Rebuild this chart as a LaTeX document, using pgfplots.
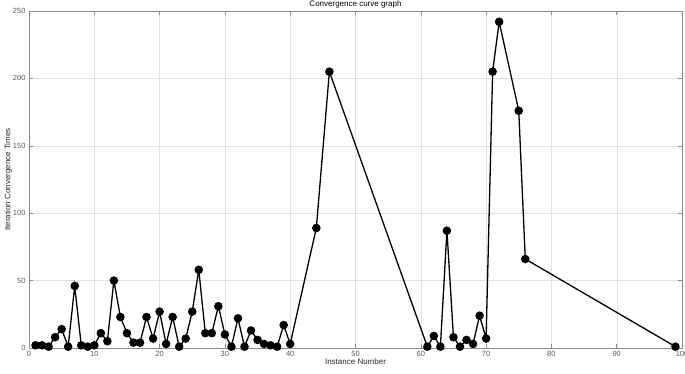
\documentclass[border=0pt]{standalone}
\usepackage{fontspec}
\setmainfont{Liberation Sans}
\usepackage{pgfplots}
\pgfplotsset{compat=1.18}
\definecolor{axgray}{RGB}{38,38,38}
\definecolor{tickgray}{RGB}{90,90,90}
\begin{document}
\begin{tikzpicture}
\begin{axis}[
  scale only axis,
  width=653pt, height=337pt,
  xmin=0, xmax=100, ymin=0, ymax=250,
  xtick={0,10,...,100}, ytick={0,50,...,250},
  tick align=inside,
  major tick length=4pt,
  xmajorgrids, ymajorgrids,
  grid style={line width=0.4pt, draw=black!12},
  axis line style={draw=black!45, line width=0.6pt},
  every tick/.style={draw=black!45, line width=0.5pt},
  tick label style={font=\fontsize{7.5}{8}\selectfont, text=tickgray},
  /pgf/number format/assume math mode=true,
  xlabel={Instance Number},
  ylabel={Iteration Convergence Times},
  label style={font=\fontsize{8}{9}\selectfont, text=axgray},
  xlabel style={yshift=5pt},
  ylabel style={yshift=-6pt},
  title={Convergence curve graph},
  title style={font=\fontsize{8}{9}\selectfont, text=black, yshift=-7pt},
]
\addplot[black, line width=1.3pt, mark=*, mark size=3.6pt] coordinates {
(1,2) (2,2) (3,1) (4,8) (5,14) (6,1) (7,46) (8,2) (9,1) (10,2)
(11,11) (12,5) (13,50) (14,23) (15,11) (16,4) (17,4) (18,23) (19,7) (20,27)
(21,3) (22,23) (23,1) (24,7) (25,27) (26,58) (27,11) (28,11) (29,31) (30,10)
(31,1) (32,22) (33,1) (34,13) (35,6) (36,3) (37,2) (38,1) (39,17) (40,3)
(44,89) (46,205)
(61,1) (62,9) (63,1) (64,87) (65,8) (66,1) (67,6) (68,3) (69,24) (70,7)
(71,205) (72,242) (75,176) (76,66) (99,1)
};
\end{axis}
\pgfresetboundingbox
\useasboundingbox (-29pt,-25pt) rectangle (656pt,348pt);
\end{tikzpicture}
\end{document}
